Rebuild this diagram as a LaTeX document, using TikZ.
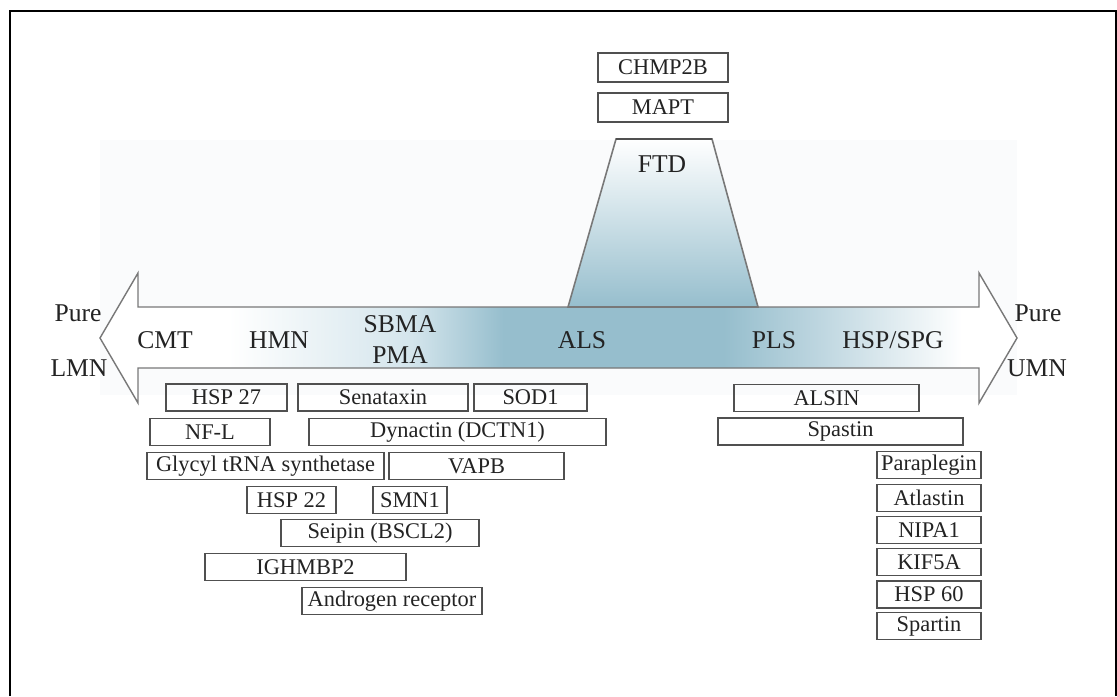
\documentclass[tikz,border=0pt]{standalone}
\usepackage{fontspec}
\setmainfont{Liberation Serif}
\definecolor{alsblue}{RGB}{150,190,205}
\definecolor{alsmid}{RGB}{188,213,223}
\definecolor{alslight}{RGB}{212,229,236}
\definecolor{backfill}{RGB}{250,251,252}
\definecolor{edgegray}{RGB}{120,120,120}
\definecolor{boxgray}{RGB}{80,80,80}
\definecolor{textgray}{RGB}{35,35,35}
\pgfdeclarehorizontalshading{spectrum}{100bp}{color(0bp)=(white); color(32bp)=(white); color(42bp)=(alslight); color(47bp)=(alsblue); color(59bp)=(alsblue); color(64bp)=(alsmid); color(72bp)=(white); color(100bp)=(white)}
\tikzset{
    label/.style={text=textgray, font=\fontsize{12.8}{14}\selectfont},
    gene/.style={draw=boxgray, line width=0.6pt, text=textgray, inner sep=0pt,
        minimum height=13.5pt, font=\fontsize{11.2}{13}\selectfont},
}
\begin{document}
\begin{tikzpicture}[x=0.5pt, y=-0.5pt]
    \useasboundingbox (0, 0) rectangle (1117, 696);
    \draw[line width=1pt] (10, 696) -- (10, 11) -- (1116, 11) -- (1116, 696);
    \fill[backfill] (100, 140) rectangle (1017, 395);

    \draw[edgegray, line width=0.7pt, shading=spectrum]
        (100, 338) -- (138, 273) -- (138, 307) -- (979, 307) -- (979, 273)
        -- (1017, 338) -- (979, 403) -- (979, 368) -- (138, 368) -- (138, 403) -- cycle;
    \draw[edgegray, line width=0.8pt, top color=white, bottom color=alsblue]
        (616, 139) -- (712, 139) -- (758, 307) -- (568, 307) -- cycle;
    \draw[boxgray, line width=1pt] (616, 139) -- (712, 139);

    \node[label] (pureL) at (78, 313) {Pure};
    \node[label] (lmn) at (79, 368) {LMN};
    \node[label] (pureR) at (1038, 313) {Pure};
    \node[label] (umn) at (1037, 368) {UMN};
    \node[label] (cmt) at (165, 340) {CMT};
    \node[label] (hmn) at (279, 340) {HMN};
    \node[label] (sbma) at (400, 324) {SBMA};
    \node[label] (pma) at (400, 355) {PMA};
    \node[label] (als) at (582, 340) {ALS};
    \node[label] (pls) at (774, 340) {PLS};
    \node[label] (hsp) at (893, 340) {HSP/SPG};
    \node[label] (ftd) at (662, 164) {FTD};

    \node[gene, minimum width=65pt, minimum height=14.5pt] (chmp2b) at (663, 67.5) {CHMP2B};
    \node[gene, minimum width=65pt, minimum height=14.5pt] (mapt) at (663, 107.5) {MAPT};

    \node[gene, minimum width=60.5pt] (hsp27) at (226.5, 397.5) {HSP 27};
    \node[gene, minimum width=85pt] (senataxin) at (383, 397.5) {Senataxin};
    \node[gene, minimum width=56.5pt] (sod1) at (530.5, 397.5) {SOD1};
    \node[gene, minimum width=60pt] (nfl) at (210, 432) {NF-L};
    \node[gene, minimum width=148.5pt] (dynactin) at (457.5, 432) {Dynactin (DCTN1)};
    \node[gene, minimum width=118.5pt] (glycyl) at (265.5, 466) {Glycyl tRNA synthetase};
    \node[gene, minimum width=87.5pt] (vapb) at (476.5, 466) {VAPB};
    \node[gene, minimum width=44.5pt] (hsp22) at (291.5, 500) {HSP 22};
    \node[gene, minimum width=37pt] (smn1) at (410, 500) {SMN1};
    \node[gene, minimum width=99pt] (seipin) at (380, 533) {Seipin (BSCL2)};
    \node[gene, minimum width=100.5pt] (ighmbp2) at (305.5, 567) {IGHMBP2};
    \node[gene, minimum width=90pt] (androgen) at (392, 601) {Androgen receptor};

    \node[gene, minimum width=92.5pt] (alsin) at (826.5, 398) {ALSIN};
    \node[gene, minimum width=122.5pt] (spastin) at (840.5, 431.5) {Spastin};
    \node[gene, minimum width=52pt] (paraplegin) at (929, 465) {Paraplegin};
    \node[gene, minimum width=52pt] (atlastin) at (929, 498) {Atlastin};
    \node[gene, minimum width=52pt] (nipa1) at (929, 530) {NIPA1};
    \node[gene, minimum width=52pt] (kif5a) at (929, 562) {KIF5A};
    \node[gene, minimum width=52pt] (hsp60) at (929, 594.5) {HSP 60};
    \node[gene, minimum width=52pt] (spartin) at (929, 626) {Spartin};
\end{tikzpicture}
\end{document}
